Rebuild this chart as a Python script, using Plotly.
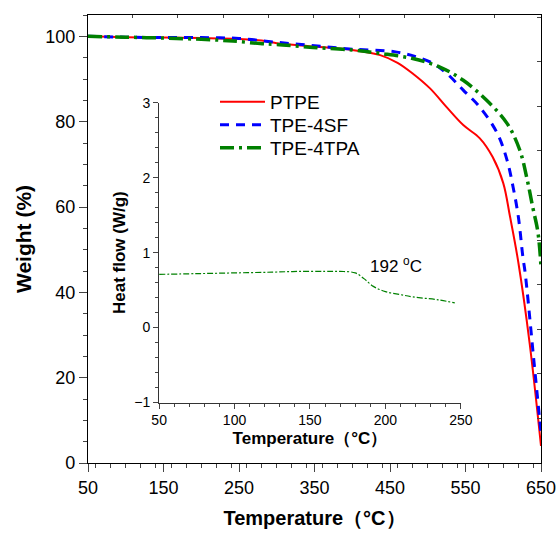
import plotly.graph_objects as go

# ---- TGA data ----
ptpe_t = [50, 100, 150, 200, 250, 280, 300, 350, 400, 437, 460, 480, 503, 525, 547, 569, 586, 600, 609, 620, 635, 650]
ptpe_w = [100, 99.8, 99.7, 99.6, 99.4, 99.0, 98.4, 97.6, 96.8, 95.6, 93.8, 91.3, 87.8, 83.4, 79.2, 76.1, 71.7, 65.6, 57.7, 47, 28, 4]

sf_t = [50, 100, 150, 200, 250, 300, 350, 400, 459, 503, 525, 547, 569, 592, 605, 613, 620, 626, 629, 640, 650]
sf_w = [100, 99.8, 99.7, 99.7, 99.5, 98.6, 97.8, 97.0, 96.3, 94.0, 91.3, 87.4, 83.4, 77.3, 71.0, 64.7, 57.7, 48.3, 44.6, 25, 7]

tpa_t = [50, 100, 150, 200, 242, 278, 300, 348, 400, 437, 480, 516, 547, 578, 605, 622, 631, 639, 646, 650]
tpa_w = [100, 99.8, 99.6, 99.3, 98.9, 98.3, 98.1, 97.4, 96.8, 96.0, 94.8, 92.8, 89.7, 85.0, 79.6, 73.3, 67.0, 60.0, 54.0, 46]

# ---- DSC inset data ----
dsc_t = [50, 75, 100, 125, 143, 160, 170, 180, 186, 192, 200, 210, 218, 235, 246]
dsc_h = [0.71, 0.72, 0.73, 0.74, 0.75, 0.75, 0.75, 0.73, 0.65, 0.55, 0.48, 0.44, 0.41, 0.37, 0.33]

FONT = "Arial, Liberation Sans, sans-serif"

fig = go.Figure()
fig.add_trace(go.Scatter(x=ptpe_t, y=ptpe_w, mode="lines", name="PTPE", legend="legend",
                         line=dict(color="#FF0000", width=2, shape="spline")))
fig.add_trace(go.Scatter(x=sf_t, y=sf_w, mode="lines", name="TPE-4SF", legend="legend2",
                         line=dict(color="#0000FF", width=3, dash="9px,7px", shape="spline")))
fig.add_trace(go.Scatter(x=tpa_t, y=tpa_w, mode="lines", name="TPE-4TPA", legend="legend3",
                         line=dict(color="#008000", width=3.5, dash="14px,5px,3px,5px", shape="spline")))
fig.add_trace(go.Scatter(x=dsc_t, y=dsc_h, mode="lines", showlegend=False,
                         xaxis="x2", yaxis="y2",
                         line=dict(color="#008000", width=1.2, dash="6px,2px,2px,2px", shape="spline")))
# empty trace for the top/right tick frame
fig.add_trace(go.Scatter(x=[None], y=[None], xaxis="x3", yaxis="y3", showlegend=False, hoverinfo="skip"))

L, R, T, B = 88, 16, 15, 70
PW, PH = 557 - L - R, 533 - T - B


def px2paper(px, py):
    return (px - L) / PW, (533 - B - py) / PH


leg_common = dict(xanchor="left", yanchor="middle", bgcolor="rgba(0,0,0,0)",
                  font=dict(size=19, family=FONT), itemwidth=45, borderwidth=0)
lx, ly1 = px2paper(215, 102)
_, ly2 = px2paper(215, 125)
_, ly3 = px2paper(215, 148)

fig.update_layout(
    width=557, height=533,
    margin=dict(l=L, r=R, t=T, b=B),
    paper_bgcolor="white", plot_bgcolor="rgba(0,0,0,0)",
    font=dict(family=FONT, color="black"),
    showlegend=True,
    legend=dict(x=lx, y=ly1, **leg_common),
    legend2=dict(x=lx, y=ly2, **leg_common),
    legend3=dict(x=lx, y=ly3, **leg_common),
    xaxis=dict(range=[50, 650], tick0=50, dtick=100, ticks="outside", ticklen=8, tickwidth=1.3,
               showline=True, linecolor="black", linewidth=1.3, showgrid=False, zeroline=False,
               minor=dict(dtick=20, ticks="outside", ticklen=4, tickwidth=1.2, showgrid=False),
               tickfont=dict(size=18), automargin=False,
               title=dict(text="<b>Temperature（°C）</b>", font=dict(size=20), standoff=14)),
    yaxis=dict(range=[0, 105], tick0=0, dtick=20, ticks="outside", ticklen=8, tickwidth=1.3,
               showline=True, linecolor="black", linewidth=1.3, showgrid=False, zeroline=False,
               minor=dict(dtick=5, ticks="outside", ticklen=4, tickwidth=1.2, showgrid=False),
               tickfont=dict(size=18), automargin=False,
               title=dict(text="<b>Weight (%)</b>", font=dict(size=21), standoff=7)),
    xaxis3=dict(overlaying="x", side="top", anchor="y", range=[50, 650], tick0=49, dtick=60,
                ticks="inside", ticklen=3, tickwidth=1, showticklabels=False, automargin=False,
                showline=True, linecolor="black", linewidth=1.3, showgrid=False, zeroline=False),
    yaxis3=dict(overlaying="y", side="right", anchor="x", range=[0, 105], tick0=0, dtick=10.45,
                ticks="inside", ticklen=4, tickwidth=1, showticklabels=False, automargin=False,
                showline=True, linecolor="black", linewidth=1.3, showgrid=False, zeroline=False),
    xaxis2=dict(domain=[0.157, 0.823], anchor="y2", range=[50, 250], tick0=50, dtick=50,
                ticks="outside", ticklen=5, tickwidth=1, showline=True, linecolor="#333333", linewidth=1.2,
                showgrid=False, zeroline=False, automargin=False,
                minor=dict(dtick=10, ticks="outside", ticklen=3, tickwidth=1, showgrid=False),
                tickfont=dict(size=14),
                title=dict(text="<b>Temperature（°C）</b>", font=dict(size=17), standoff=4)),
    yaxis2=dict(domain=[0.135, 0.804], anchor="x2", range=[-1, 3], tick0=-1, dtick=1,
                ticks="outside", ticklen=5, tickwidth=1, showline=True, linecolor="#333333", linewidth=1.2,
                showgrid=False, zeroline=False, automargin=False,
                minor=dict(dtick=0.2, ticks="outside", ticklen=3, tickwidth=1, showgrid=False),
                tickfont=dict(size=14),
                title=dict(text="<b>Heat flow (W/g)</b>", font=dict(size=17), standoff=4)),
    annotations=[dict(x=207, y=0.83, xref="x2", yref="y2", text="192 <sup>o</sup>C",
                      showarrow=False, font=dict(size=17, family=FONT))],
)

fig.write_html("out.html", config={"displayModeBar": False},
               post_script="document.body.style.margin='0';document.body.style.overflow='hidden';")
